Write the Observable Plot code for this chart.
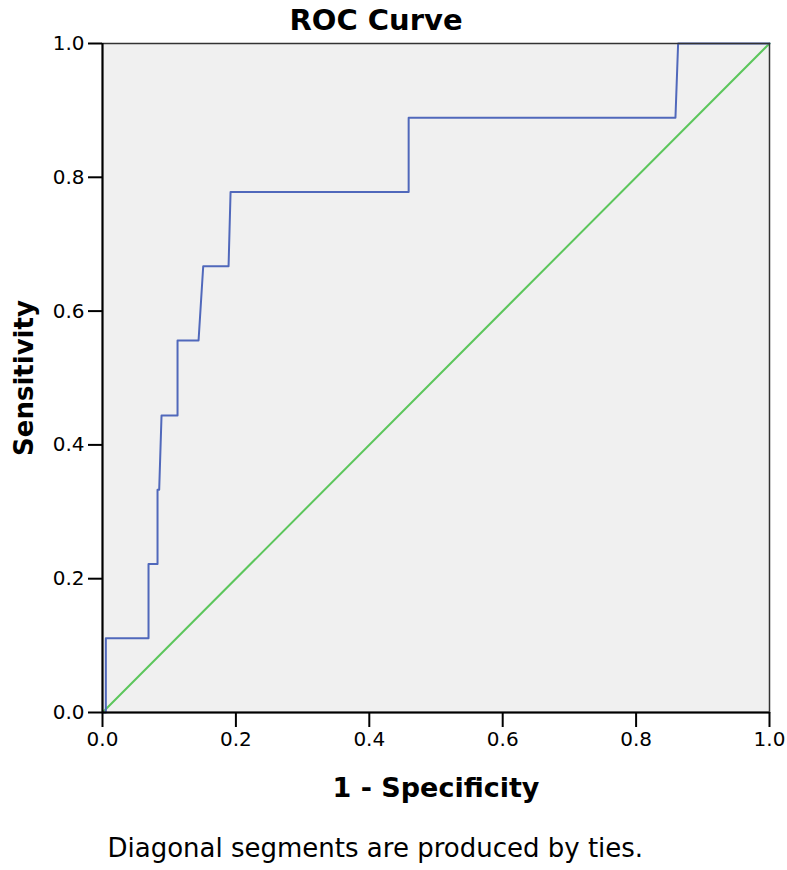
<!DOCTYPE html>
<html>
<head>
<meta charset="utf-8">
<script src="https://cdn.jsdelivr.net/npm/d3@7"></script>
<script src="https://cdn.jsdelivr.net/npm/@observablehq/plot@0.6"></script>
<style>
  html, body { margin: 0; padding: 0; background: #fff; }
  #chart svg { display: block; }
</style>
</head>
<body>
<div id="chart"></div>
<script>
// ROC curve points (1 - specificity, sensitivity)
const fpr = [0, 0.005, 0.005, 0.069, 0.069, 0.0825, 0.0825, 0.085, 0.0885, 0.1125, 0.1125, 0.144, 0.151, 0.189, 0.192, 0.459, 0.459, 0.859, 0.863, 1.0];
const tpr = [0, 0, 0.111, 0.111, 0.222, 0.222, 0.333, 0.333, 0.444, 0.444, 0.556, 0.556, 0.667, 0.667, 0.778, 0.778, 0.889, 0.889, 1.0, 1.0];
// reference diagonal
const diagX = [0, 1];
const diagY = [0, 1];
const ticks = [0, 0.2, 0.4, 0.6, 0.8, 1.0];

const titleText = "ROC Curve";
const xLabel = "1 - Specificity";
const yLabel = "Sensitivity";
const captionText = "Diagonal segments are produced by ties.";

const roc = fpr.map((x, i) => ({x, y: tpr[i]}));
const diag = diagX.map((x, i) => ({x, y: diagY[i]}));

const font = "DejaVu Sans, Verdana, sans-serif";

const chart = Plot.plot({
  width: 787,
  height: 870,
  marginLeft: 102,
  marginRight: 18,
  marginTop: 43,
  marginBottom: 158,
  style: {fontFamily: font, background: "#fff", color: "#000"},
  x: {domain: [0, 1]},
  y: {domain: [0, 1]},
  marks: [
    Plot.frame({fill: "#f0f0f0", stroke: null}),
    Plot.line(diag, {x: "x", y: "y", stroke: "#5cc65c", strokeWidth: 2}),
    Plot.line(roc, {x: "x", y: "y", stroke: "#5068bb", strokeWidth: 2, curve: "linear"}),
    Plot.frame({stroke: "#333", strokeWidth: 1.5}),
    Plot.ruleX([0], {stroke: "#000", strokeWidth: 2}),
    Plot.ruleY([0], {stroke: "#000", strokeWidth: 2}),
    Plot.axisX({ticks, tickFormat: d3.format(".1f"), tickSize: 15, tickPadding: 4, fontSize: 20, label: null, stroke: "#000", strokeWidth: 2, strokeOpacity: 1, fill: "#000"}),
    Plot.axisY({ticks, tickFormat: d3.format(".1f"), tickSize: 14, tickPadding: 4, fontSize: 20, label: null, stroke: "#000", strokeWidth: 2, strokeOpacity: 1, fill: "#000"}),
    Plot.text([titleText], {frameAnchor: "top", dx: -60, dy: -34, fontSize: 29, fontWeight: "bold", fill: "#000"}),
    Plot.text([xLabel], {frameAnchor: "bottom", dy: 84, fontSize: 27, fontWeight: "bold", fill: "#000"}),
    Plot.text([yLabel], {frameAnchor: "left", textAnchor: "middle", dx: -78, rotate: -90, fontSize: 26, fontWeight: "bold", fill: "#000"}),
    Plot.text([captionText], {frameAnchor: "bottom-left", textAnchor: "start", dx: 5, dy: 144, fontSize: 26, fill: "#000"})
  ]
});
document.getElementById("chart").appendChild(chart);
</script>
</body>
</html>
